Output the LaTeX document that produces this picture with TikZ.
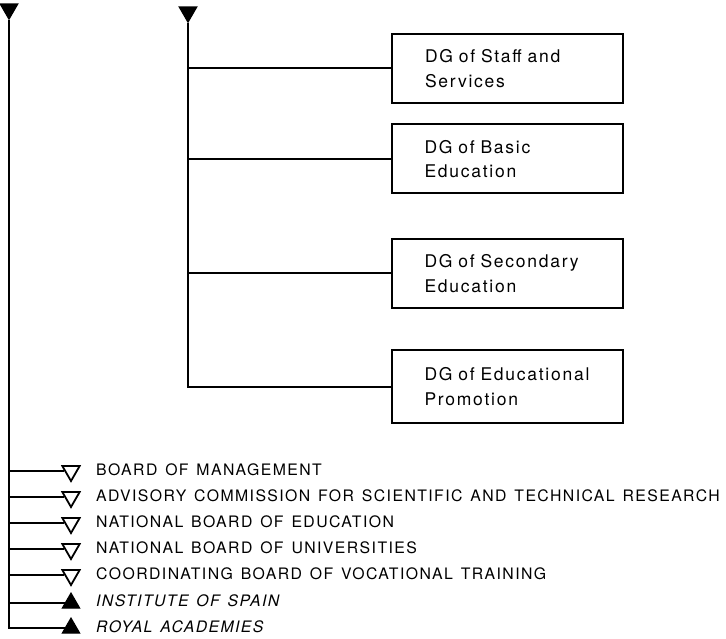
\documentclass[tikz,border=0pt]{standalone}
\usepackage{fontspec}
\setmainfont{TeX Gyre Heros}
\newfontfamily\boxfont[LetterSpace=10,WordSpace=1.8]{TeX Gyre Heros}
\newfontfamily\listfont[LetterSpace=9,WordSpace=1.35]{TeX Gyre Heros}
\usetikzlibrary{shapes.geometric}
\begin{document}
\begin{tikzpicture}[x=1pt,y=-1pt,
  wire/.style={line width=2pt},
  dgbox/.style={draw,line width=2pt,minimum width=231pt,minimum height=69pt,inner xsep=0pt,
    text width=165pt,align=left,font=\boxfont\fontsize{17.5}{24.5}\selectfont},
  downtri/.style={regular polygon,regular polygon sides=3,shape border rotate=180,draw,line width=1.8pt,
    minimum size=20pt,inner sep=0pt},
  downfill/.style={downtri,fill=black,minimum size=19pt},
  upfill/.style={regular polygon,regular polygon sides=3,draw,fill=black,line width=1pt,
    minimum size=20pt,inner sep=0pt},
  item/.style={anchor=west,inner sep=0pt,font=\listfont\fontsize{15.8}{18}\selectfont}]
\useasboundingbox (0,0) rectangle (726,639);
% top triangles
\node[downfill] (top1) at (9,9) {};
\node[downfill] (top2) at (188,12) {};
% boxes
\node[dgbox] (box1) at (507.5,68.5) {DG of Staff and\\Services};
\node[dgbox] (box2) at (507,159) {DG of Basic\\Education};
\node[dgbox] (box3) at (507,273.5) {DG of Secondary\\Education};
\node[dgbox,minimum height=73pt] (box4) at (507,386.5) {DG of Educational\\Promotion};
% connector coordinates on second vertical
\coordinate (b1) at (188,68.5);
\coordinate (b2) at (188,159);
\coordinate (b3) at (188,273.5);
\coordinate (b4) at (188,386.5);
\draw[wire] (top2) -- (b4) -- (box4);
\draw[wire] (b1) -- (box1);
\draw[wire] (b2) -- (box2);
\draw[wire] (b3) -- (box3);
% bottom list
\coordinate (c1) at (9,471);
\coordinate (c2) at (9,497);
\coordinate (c3) at (9,523);
\coordinate (c4) at (9,549);
\coordinate (c5) at (9,575);
\coordinate (c6) at (9,603);
\coordinate (c7) at (9,628);
\node[downtri] (t1) at (71,471) {};
\node[downtri] (t2) at (71,497) {};
\node[downtri] (t3) at (71,523) {};
\node[downtri] (t4) at (71,549) {};
\node[downtri] (t5) at (71,575) {};
\node[upfill] (t6) at (71,603) {};
\node[upfill] (t7) at (71,628) {};
\node[item] (l1) at (96,470) {BOARD OF MANAGEMENT};
\node[item] (l2) at (96,496) {ADVISORY COMMISSION FOR SCIENTIFIC AND TECHNICAL RESEARCH};
\node[item] (l3) at (96,522) {NATIONAL BOARD OF EDUCATION};
\node[item] (l4) at (96,548) {NATIONAL BOARD OF UNIVERSITIES};
\node[item] (l5) at (96,574) {COORDINATING BOARD OF VOCATIONAL TRAINING};
\node[item] (l6) at (96,601) {\itshape INSTITUTE OF SPAIN};
\node[item] (l7) at (96,627) {\itshape ROYAL ACADEMIES};
\draw[wire] (top1) -- (c7) -- (t7);
\draw[wire] (c1) -- (t1);
\draw[wire] (c2) -- (t2);
\draw[wire] (c3) -- (t3);
\draw[wire] (c4) -- (t4);
\draw[wire] (c5) -- (t5);
\draw[wire] (c6) -- (t6);
\end{tikzpicture}
\end{document}
